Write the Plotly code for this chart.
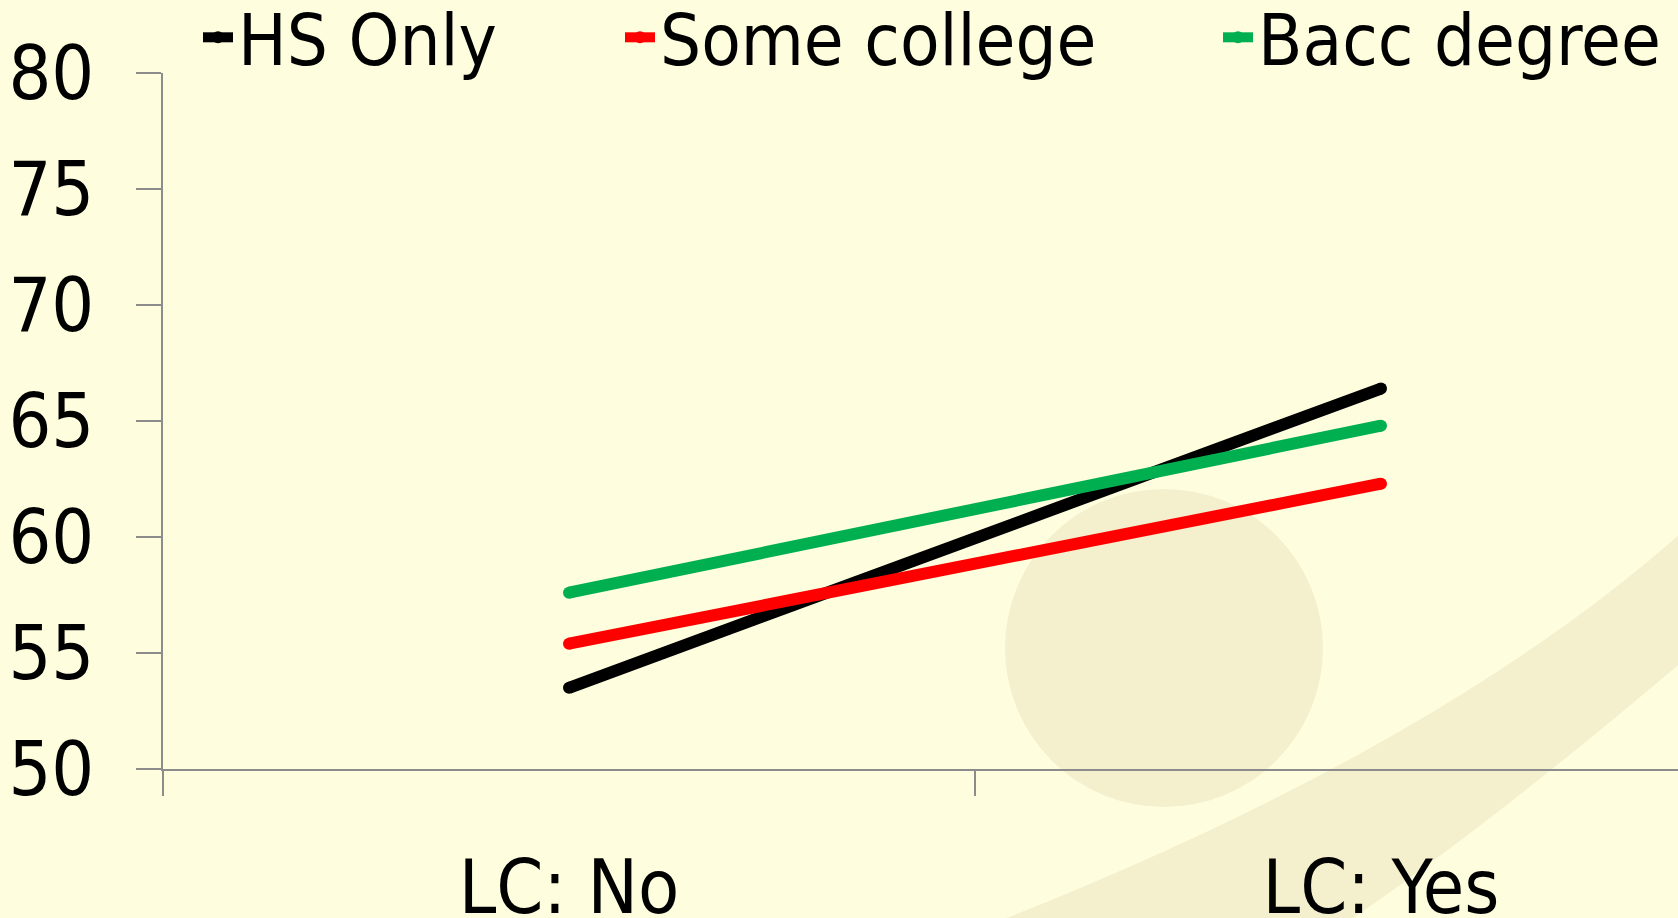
import plotly.graph_objects as go

# ---- data ----
categories = ["LC: No", "LC: Yes"]
hs_only = [53.5, 66.4]
some_college = [55.4, 62.3]
bacc_degree = [57.6, 64.8]

series_names = ["HS Only", "Some college", "Bacc degree"]
series_values = [hs_only, some_college, bacc_degree]
series_colors = ["#000000", "#FF0000", "#00B050"]
legend_widths = [377, 553, 420]

y_ticks = [50, 55, 60, 65, 70, 75, 80]

# ---- page geometry ----
W, H = 1678, 918
ML, MR, MT, MB = 163, 0, 73, 149
PLOT_W = W - ML - MR
PLOT_H = H - MT - MB

FONT = "DejaVu Sans Condensed, DejaVu Sans, sans-serif"
BG = "#FEFEDF"
WATERMARK = "#F4EFCC"
AXIS_GREY = "#8C8C8C"


def to_paper(x, y):
    """Convert page pixel position to paper coordinates."""
    return (x - ML) / PLOT_W, (H - MB - y) / PLOT_H


def path_from(points):
    parts = []
    for cmd, pts in points:
        coords = " ".join("%.4f,%.4f" % to_paper(*p) for p in pts)
        parts.append(cmd + coords)
    return " ".join(parts) + " Z"


fig = go.Figure()

for name, vals, color, lw in zip(series_names, series_values, series_colors, legend_widths):
    fig.add_trace(go.Scatter(
        x=categories,
        y=vals,
        name=name,
        mode="lines+markers",
        line=dict(color=color, width=12),
        marker=dict(color=color, size=12, line=dict(width=0)),
        legendwidth=lw,
        hoverinfo="skip",
    ))

# faint background emblem: a disc and a sweeping band
cx0, cy0 = to_paper(1005, 489)
cx1, cy1 = to_paper(1323, 807)
band = path_from([
    ("M", [(950, 940)]),
    ("Q", [(1433, 756.5), (1690, 525)]),
    ("L", [(1690, 655)]),
    ("Q", [(1467.5, 844), (1320, 940)]),
])

legend_x, legend_y = to_paper(198, -16)

fig.update_layout(
    width=W,
    height=H,
    margin=dict(l=ML, r=MR, t=MT, b=MB, pad=0, autoexpand=False),
    paper_bgcolor=BG,
    plot_bgcolor="rgba(0,0,0,0)",
    font=dict(family=FONT, size=75, color="#000000"),
    showlegend=True,
    legend=dict(
        orientation="h",
        xref="paper",
        yref="paper",
        x=legend_x,
        y=legend_y,
        xanchor="left",
        yanchor="top",
        bgcolor="rgba(0,0,0,0)",
        borderwidth=0,
        itemwidth=30,
        font=dict(family=FONT, size=72, color="#000000"),
    ),
    shapes=[
        dict(type="circle", xref="paper", yref="paper",
             x0=cx0, y0=cy0, x1=cx1, y1=cy1,
             fillcolor=WATERMARK, line=dict(width=0), layer="below"),
        dict(type="path", xref="paper", yref="paper", path=band,
             fillcolor=WATERMARK, line=dict(width=0), layer="below"),
    ],
    xaxis=dict(
        type="category",
        range=[-0.5, -0.5 + PLOT_W / 812.0],
        showgrid=False,
        zeroline=False,
        showline=True,
        linecolor=AXIS_GREY,
        linewidth=2,
        ticks="outside",
        tickson="boundaries",
        ticklen=25,
        tickwidth=1.5,
        tickcolor=AXIS_GREY,
        tickfont=dict(family=FONT, size=75, color="#000000"),
        ticklabelstandoff=52,
    ),
    yaxis=dict(
        range=[50, 80],
        tickvals=y_ticks,
        ticktext=[str(v) for v in y_ticks],
        showgrid=False,
        zeroline=False,
        showline=True,
        linecolor=AXIS_GREY,
        linewidth=1.5,
        ticks="outside",
        ticklen=25,
        tickwidth=1.5,
        tickcolor=AXIS_GREY,
        tickfont=dict(family=FONT, size=75, color="#000000"),
        ticklabelstandoff=27,
    ),
)

fig.write_html("out.html")
